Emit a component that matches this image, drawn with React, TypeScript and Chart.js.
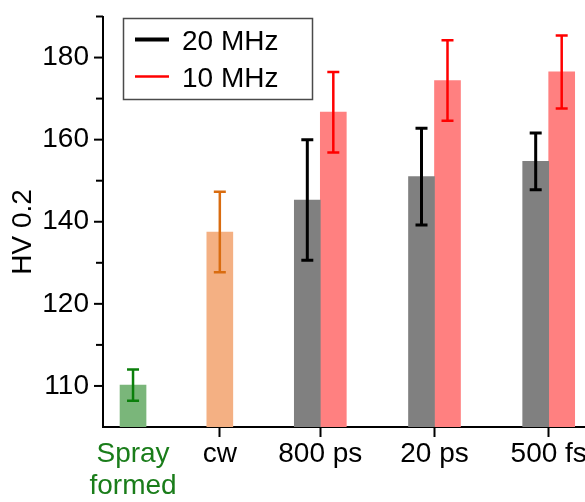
import { useEffect, useRef } from "react";
import { Chart, registerables } from "chart.js";

Chart.register(...registerables);

// ---------- data ----------
const categories: (string | string[])[] = [["Spray", "formed"], "cw", "800 ps", "20 ps", "500 fs"];
const categoryX = [0.36, 1.12, 2, 3, 4];

const sprayValues = [110.1, null, null, null, null];
const sprayErrors = [1.9, null, null, null, null];
const cwValues = [null, 137.5, null, null, null];
const cwErrors = [null, 9.8, null, null, null];
const mhz20Values = [null, null, 145.3, 151.0, 154.7];
const mhz20Errors = [null, null, 14.7, 11.8, 6.9];
const mhz10Values = [null, null, 166.7, 174.4, 176.5];
const mhz10Errors = [null, null, 9.8, 9.8, 8.9];

const yMajorTicks = [110, 120, 140, 160, 180];
const yMinorTicks = [115, 130, 150, 170, 190];
const yMin = 105;
const yMax = 190;
const breakValue = 120; // axis scale changes below this value
const lowerStretch = 2;

const yTitle = "HV 0.2";

// ---------- helpers ----------
const toDisplay = (v: number) => (v >= breakValue ? v : breakValue - (breakValue - v) * lowerStretch);

const FONT = "'Liberation Sans', Arial, sans-serif";

type Series = {
  label: string;
  values: (number | null)[];
  errors: (number | null)[];
  fill: string;
  errColor: string;
  errWidth: number;
};

const series: Series[] = [
  { label: "Spray formed", values: sprayValues, errors: sprayErrors, fill: "#7ab67a", errColor: "#0b7f0b", errWidth: 2.5 },
  { label: "cw", values: cwValues, errors: cwErrors, fill: "#f4b083", errColor: "#d96c10", errWidth: 2.5 },
  { label: "20 MHz", values: mhz20Values, errors: mhz20Errors, fill: "#808080", errColor: "#000000", errWidth: 3 },
  { label: "10 MHz", values: mhz10Values, errors: mhz10Errors, fill: "#ff8080", errColor: "#ff0000", errWidth: 2.5 },
];
const legendSeries = [2, 3];

const decorations = {
  id: "decorations",
  afterDatasetsDraw(chart: any) {
    const ctx = chart.ctx;
    const ys = chart.scales.y;
    series.forEach((s, di) => {
      const meta = chart.getDatasetMeta(di);
      meta.data.forEach((bar: any, i: number) => {
        const v = s.values[i];
        const e = s.errors[i];
        if (v == null || e == null) return;
        const x = bar.x;
        const top = ys.getPixelForValue(toDisplay(v + e));
        const bot = ys.getPixelForValue(toDisplay(v - e));
        ctx.save();
        ctx.strokeStyle = s.errColor;
        ctx.lineWidth = s.errWidth;
        ctx.beginPath();
        ctx.moveTo(x, top);
        ctx.lineTo(x, bot);
        ctx.moveTo(x - 6, top);
        ctx.lineTo(x + 6, top);
        ctx.moveTo(x - 6, bot);
        ctx.lineTo(x + 6, bot);
        ctx.stroke();
        ctx.restore();
      });
    });
  },
  afterDraw(chart: any) {
    const ctx = chart.ctx;
    const ys = chart.scales.y;
    const left = chart.chartArea.left;
    // y tick marks (major longer than minor)
    ctx.save();
    ctx.strokeStyle = "#000";
    ctx.lineWidth = 2;
    ys.ticks.forEach((t: any) => {
      const py = ys.getPixelForValue(t.value);
      const len = t.label ? 9 : 7;
      ctx.beginPath();
      ctx.moveTo(left - len, py);
      ctx.lineTo(left, py);
      ctx.stroke();
    });
    ctx.restore();

    // y axis title
    ctx.save();
    ctx.translate(23.5, 232);
    ctx.rotate(-Math.PI / 2);
    ctx.font = `28px ${FONT}`;
    ctx.fillStyle = "#000";
    ctx.textAlign = "center";
    ctx.textBaseline = "middle";
    ctx.fillText(yTitle, 0, 0);
    ctx.restore();

    // legend box
    ctx.save();
    ctx.strokeStyle = "#4a4a4a";
    ctx.lineWidth = 1.5;
    ctx.strokeRect(123.5, 18.5, 189, 81);
    const rows = [39.5, 76.5];
    legendSeries.forEach((di, r) => {
      const s = series[di];
      const y = rows[r];
      ctx.strokeStyle = s.errColor;
      ctx.lineWidth = r === 0 ? 4 : 2.5;
      ctx.beginPath();
      ctx.moveTo(135, y);
      ctx.lineTo(169, y);
      ctx.stroke();
      ctx.fillStyle = "#000";
      ctx.font = `28px ${FONT}`;
      ctx.textAlign = "left";
      ctx.textBaseline = "middle";
      ctx.fillText(chart.data.datasets[di].label, 182, y + 3);
    });
    ctx.restore();
  },
};

export default function App() {
  const ref = useRef<HTMLCanvasElement | null>(null);

  useEffect(() => {
    if (!ref.current) return;
    const chart = new Chart(ref.current, {
      type: "bar",
      data: {
        datasets: series.map((s) => ({
          label: s.label,
          data: s.values.map((v, i) => ({ x: categoryX[i], y: v == null ? null : toDisplay(v) })),
          backgroundColor: s.fill,
          borderWidth: 0,
          barThickness: 26,
          skipNull: true,
        })) as any,
      },
      options: {
        animation: false,
        responsive: false,
        devicePixelRatio: 1,
        layout: { padding: { top: 16.5, left: 0, right: 10, bottom: 0 } },
        datasets: { bar: { skipNull: true } } as any,
        plugins: { legend: { display: false }, tooltip: { enabled: false } },
        scales: {
          x: {
            type: "linear",
            bounds: "data",
            min: 0.097,
            max: 4.712,
            offset: false,
            afterBuildTicks: (s: any) => {
              s.ticks = categoryX.map((v) => ({ value: v }));
            },
            afterFit: (s: any) => {
              s.height = 75;
            },
            ticks: {
              autoSkip: false,
              maxRotation: 0,
              minRotation: 0,
              padding: 1,
              font: { family: FONT, size: 28, lineHeight: 1.14 },
              color: (c: any) => (c.index === 0 ? "#1a7d1a" : "#000"),
              callback: (_v: any, i: number) => categories[i],
            },
            grid: {
              display: true,
              drawOnChartArea: false,
              drawTicks: true,
              tickLength: 10,
              tickWidth: 2,
              offset: false,
              tickColor: (c: any) => (c.index === 0 ? "rgba(0,0,0,0)" : "#000"),
            },
            border: { display: true, color: "#000", width: 2 },
          } as any,
          y: {
            type: "linear",
            bounds: "data",
            beginAtZero: false,
            min: toDisplay(yMin),
            max: toDisplay(yMax),
            afterBuildTicks: (s: any) => {
              s.ticks = [...yMajorTicks, ...yMinorTicks]
                .map((v) => toDisplay(v))
                .sort((a, b) => a - b)
                .map((v) => ({ value: v }));
            },
            afterFit: (s: any) => {
              s.width = 103;
            },
            ticks: {
              padding: 4,
              font: { family: FONT, size: 28, lineHeight: 0.8 },
              color: "#000",
              callback: (v: any) => {
                const m = yMajorTicks.find((t) => Math.abs(toDisplay(t) - v) < 1e-6);
                return m === undefined ? "" : String(m);
              },
            },
            grid: {
              display: true,
              drawOnChartArea: false,
              drawTicks: true,
              tickLength: 10,
              tickColor: "rgba(0,0,0,0)",
            },
            border: { display: true, color: "#000", width: 2 },
          } as any,
        },
      },
      plugins: [decorations],
    });
    return () => chart.destroy();
  }, []);

  return (
    <div style={{ position: "fixed", left: 0, top: 0, width: 585, height: 502, overflow: "hidden", background: "#fff" }}>
      <canvas ref={ref} width={640} height={502} style={{ display: "block" }} />
    </div>
  );
}
